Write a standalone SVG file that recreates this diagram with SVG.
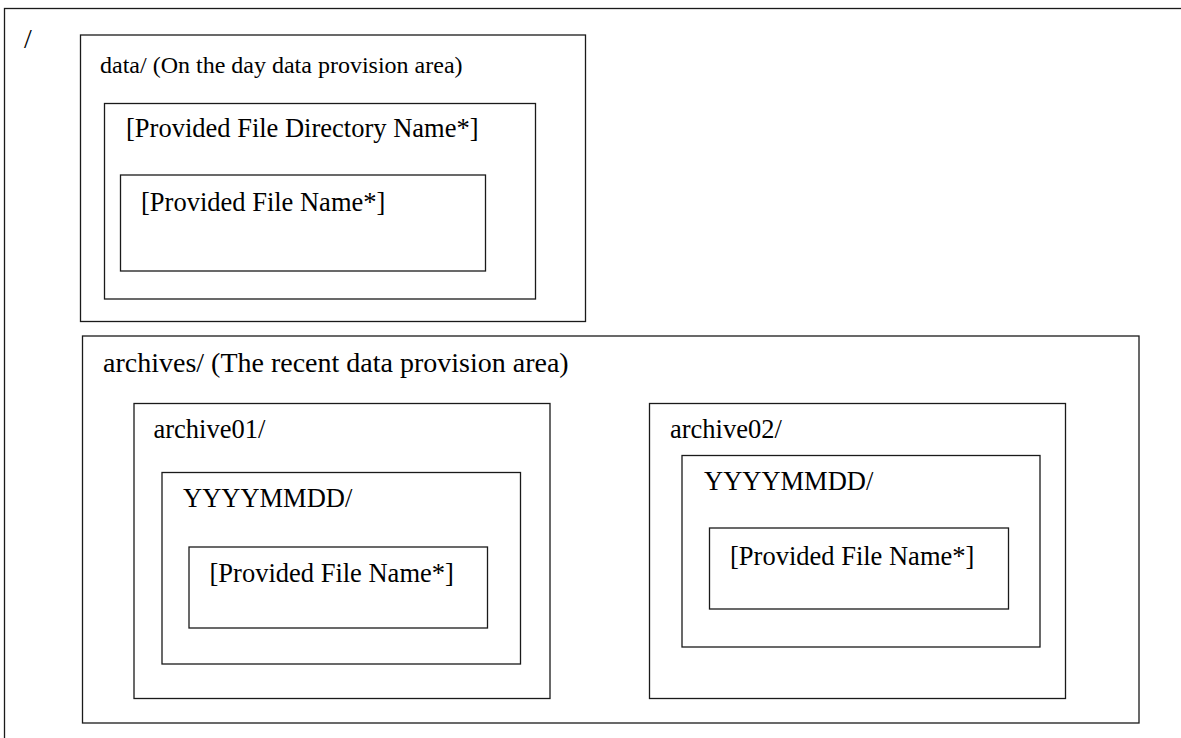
<svg xmlns="http://www.w3.org/2000/svg" width="1181" height="738" viewBox="0 0 1181 738">
<style>
rect.box{fill:none;stroke:#1a1a1a;stroke-width:1.3}
text{font-family:"Liberation Serif","Times New Roman",serif;fill:#000;font-size:26.5px}
.s24{font-size:24px}
.s28{font-size:28px}
</style>
<rect x="0" y="0" width="1181" height="738" fill="#fff"/>
<g id="root">
<rect class="box" x="4.5" y="8.5" width="1200" height="800"/>
<text x="24" y="48" class="s28">/</text>
</g>
<g id="data">
<rect class="box" x="80.5" y="35" width="505" height="286.5"/>
<text x="100" y="73" class="s24">data/ (On the day data provision area)</text>
</g>
<g id="data-dir">
<rect class="box" x="104.5" y="103.5" width="431" height="195.5"/>
<text x="126" y="137">[Provided File Directory Name*]</text>
</g>
<g id="data-file">
<rect class="box" x="120.5" y="175" width="365" height="96"/>
<text x="141" y="211">[Provided File Name*]</text>
</g>
<g id="archives">
<rect class="box" x="82.5" y="336" width="1056.5" height="387"/>
<text x="103" y="372" class="s28">archives/ (The recent data provision area)</text>
</g>
<g id="archive01">
<rect class="box" x="134" y="403.5" width="416" height="295"/>
<text x="153.5" y="438">archive01/</text>
</g>
<g id="archive01-date">
<rect class="box" x="162" y="472.5" width="358.5" height="191.5"/>
<text x="183" y="507">YYYYMMDD/</text>
</g>
<g id="archive01-file">
<rect class="box" x="189" y="547" width="298.5" height="81"/>
<text x="209.5" y="582">[Provided File Name*]</text>
</g>
<g id="archive02">
<rect class="box" x="649.5" y="403.5" width="416" height="295"/>
<text x="670" y="438">archive02/</text>
</g>
<g id="archive02-date">
<rect class="box" x="682" y="455.5" width="358" height="191.5"/>
<text x="704" y="490">YYYYMMDD/</text>
</g>
<g id="archive02-file">
<rect class="box" x="709.5" y="528" width="299" height="81"/>
<text x="730" y="565">[Provided File Name*]</text>
</g>
<g id="connectors"></g>
</svg>
